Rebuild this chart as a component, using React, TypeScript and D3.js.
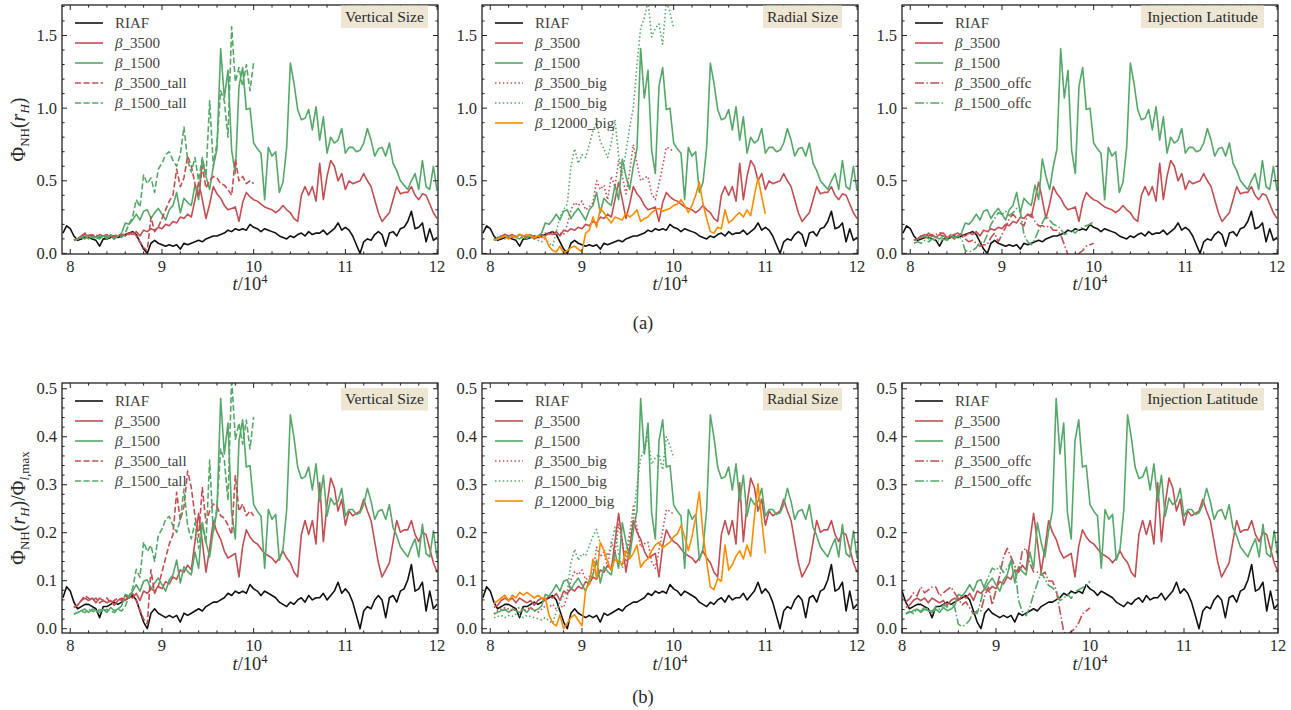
import React from "react";
import * as d3 from "d3";

// Sampling of every run: uniform step in t/10^4
const DT = 0.04;
const RIAF_T0 = 7.92;
const RUN_T0 = 8.04;

// Phi_NH(r_H) for each run (row (a)); row (b) divides by the run's Phi_max
const riaf = [
  0.14, 0.19, 0.17, 0.12, 0.09, 0.10, 0.11, 0.11, 0.10, 0.09,
  0.05, 0.10, 0.10, 0.11, 0.12, 0.11, 0.12, 0.13, 0.14, 0.15,
  0.13, 0.08, 0.03, 0.00, 0.07, 0.09, 0.07, 0.06, 0.05, 0.06,
  0.05, 0.06, 0.03, 0.07, 0.06, 0.07, 0.08, 0.09, 0.08, 0.10,
  0.11, 0.12, 0.12, 0.13, 0.14, 0.16, 0.15, 0.17, 0.16, 0.17,
  0.16, 0.20, 0.18, 0.17, 0.15, 0.17, 0.16, 0.15, 0.14, 0.12,
  0.11, 0.10, 0.12, 0.11, 0.13, 0.14, 0.12, 0.15, 0.13, 0.14,
  0.14, 0.16, 0.13, 0.15, 0.17, 0.21, 0.16, 0.18, 0.16, 0.12,
  0.06, 0.00, 0.08, 0.10, 0.09, 0.13, 0.15, 0.13, 0.05, 0.14,
  0.15, 0.12, 0.17, 0.18, 0.22, 0.29, 0.17, 0.18, 0.21, 0.08,
  0.17, 0.09, 0.11,
];

const beta3500 = [
  0.09, 0.10, 0.12, 0.13, 0.12, 0.13, 0.11, 0.13, 0.12, 0.11,
  0.12, 0.10, 0.12, 0.13, 0.12, 0.14, 0.13, 0.15, 0.12, 0.16,
  0.15, 0.17, 0.16, 0.18, 0.17, 0.20, 0.19, 0.22, 0.21, 0.25,
  0.24, 0.27, 0.25, 0.37, 0.49, 0.37, 0.24, 0.34, 0.46, 0.41,
  0.38, 0.33, 0.30, 0.31, 0.32, 0.22, 0.35, 0.42, 0.39, 0.37,
  0.36, 0.34, 0.32, 0.31, 0.30, 0.28, 0.30, 0.33, 0.30, 0.28,
  0.24, 0.22, 0.40, 0.46, 0.40, 0.46, 0.36, 0.62, 0.37, 0.53,
  0.64, 0.60, 0.50, 0.55, 0.44, 0.50, 0.48, 0.49, 0.50, 0.55,
  0.50, 0.46, 0.37, 0.28, 0.22, 0.25, 0.28, 0.37, 0.46, 0.41,
  0.42, 0.42, 0.46, 0.40, 0.37, 0.41, 0.40, 0.34, 0.28, 0.24,
];

const beta1500 = [
  0.09, 0.10, 0.11, 0.12, 0.10, 0.12, 0.11, 0.10, 0.12, 0.10,
  0.13, 0.11, 0.12, 0.14, 0.21, 0.20, 0.23, 0.27, 0.23, 0.29,
  0.30, 0.24, 0.28, 0.31, 0.27, 0.23, 0.30, 0.33, 0.42, 0.28,
  0.38, 0.35, 0.33, 0.47, 0.37, 0.65, 0.53, 0.44, 0.60, 0.72,
  1.41, 1.07, 1.26, 0.71, 0.55, 1.15, 1.28, 0.99, 1.00, 0.76,
  0.72, 0.69, 0.37, 0.73, 0.67, 0.70, 0.42, 0.49, 0.73, 1.31,
  1.17, 0.99, 0.92, 0.93, 0.99, 0.85, 1.01, 0.78, 0.94, 0.69,
  0.80, 0.76, 0.78, 0.86, 0.69, 0.73, 0.73, 0.70, 0.71, 0.76,
  0.86, 0.78, 0.67, 0.72, 0.73, 0.67, 0.76, 0.62, 0.57, 0.50,
  0.47, 0.44, 0.50, 0.55, 0.44, 0.64, 0.46, 0.44, 0.60, 0.43,
];

const beta3500Tall = [
  0.09, 0.10, 0.12, 0.14, 0.13, 0.12, 0.13, 0.11, 0.12, 0.13,
  0.11, 0.12, 0.13, 0.12, 0.14, 0.13, 0.15, 0.12, 0.08, 0.04,
  0.02, 0.25, 0.15, 0.18, 0.24, 0.30, 0.36, 0.40, 0.58, 0.46,
  0.52, 0.67, 0.60, 0.48, 0.39, 0.60, 0.45, 0.50, 0.53, 0.52,
  0.48, 0.47, 0.44, 0.40, 0.65, 0.50, 0.53, 0.48, 0.50, 0.48,
];

const beta1500Tall = [
  0.09, 0.10, 0.11, 0.10, 0.12, 0.11, 0.10, 0.12, 0.11, 0.12,
  0.11, 0.10, 0.12, 0.11, 0.14, 0.20, 0.25, 0.37, 0.32, 0.54,
  0.48, 0.52, 0.42, 0.58, 0.62, 0.68, 0.70, 0.64, 0.60, 0.68,
  0.87, 0.64, 0.56, 0.66, 0.50, 0.66, 0.53, 1.05, 0.60, 0.76,
  1.12, 1.05, 0.80, 1.56, 1.18, 1.28, 1.15, 1.30, 1.12, 1.32,
];

const beta3500Big = [
  0.09, 0.11, 0.12, 0.13, 0.12, 0.11, 0.12, 0.13, 0.11, 0.12,
  0.13, 0.11, 0.10, 0.12, 0.14, 0.13, 0.15, 0.12, 0.14, 0.13,
  0.20, 0.30, 0.35, 0.33, 0.36, 0.30, 0.32, 0.35, 0.50, 0.44,
  0.47, 0.37, 0.53, 0.46, 0.64, 0.53, 0.41, 0.56, 0.75, 0.62,
  0.50, 0.52, 0.53, 0.41, 0.37, 0.48, 0.60, 0.73, 0.72, 0.70,
];

const beta1500Big = [
  0.10, 0.11, 0.12, 0.10, 0.12, 0.11, 0.13, 0.12, 0.10, 0.12,
  0.11, 0.10, 0.09, 0.08, 0.10, 0.07, 0.05, 0.15, 0.25, 0.30,
  0.34, 0.60, 0.72, 0.62, 0.68, 0.66, 0.75, 0.84, 0.90, 0.77,
  0.72, 0.66, 0.76, 0.92, 0.67, 0.55, 0.70, 0.87, 1.00, 1.30,
  1.55, 1.62, 1.74, 1.49, 1.55, 1.58, 1.44, 1.74, 1.66, 1.55,
];

const beta12000Big = [
  0.09, 0.10, 0.11, 0.12, 0.10, 0.12, 0.11, 0.13, 0.12, 0.13,
  0.12, 0.11, 0.12, 0.11, 0.11, 0.05, 0.02, 0.01, 0.05, 0.00,
  0.02, 0.04, 0.05, 0.03, 0.01, 0.14, 0.16, 0.25, 0.18, 0.31,
  0.28, 0.24, 0.21, 0.25, 0.24, 0.23, 0.28, 0.25, 0.27, 0.30,
  0.22, 0.24, 0.25, 0.28, 0.30, 0.31, 0.29, 0.30, 0.31, 0.33,
  0.34, 0.37, 0.33, 0.28, 0.33, 0.40, 0.49, 0.34, 0.24, 0.15,
  0.14, 0.18, 0.17, 0.30, 0.21, 0.23, 0.26, 0.28, 0.25, 0.30,
  0.26, 0.40, 0.52, 0.39, 0.27,
];

const beta3500Offc = [
  0.09, 0.10, 0.12, 0.11, 0.14, 0.12, 0.13, 0.14, 0.14, 0.11,
  0.12, 0.13, 0.14, 0.12, 0.10, 0.08, 0.09, 0.07, 0.05, 0.06,
  0.06, 0.11, 0.14, 0.08, 0.13, 0.18, 0.24, 0.27, 0.24, 0.21,
  0.19, 0.26, 0.27, 0.22, 0.19, 0.19, 0.18, 0.19, 0.16, 0.16,
  0.13, 0.06, -0.01, -0.02, -0.01, 0.00, 0.02, 0.05, 0.06, 0.07,
];

const beta1500Offc = [
  0.07, 0.08, 0.07, 0.09, 0.08, 0.10, 0.09, 0.08, 0.10, 0.09,
  0.11, 0.10, 0.12, 0.10, 0.02, 0.01, 0.02, 0.04, 0.08, 0.07,
  0.13, 0.20, 0.24, 0.28, 0.27, 0.29, 0.26, 0.28, 0.31, 0.29,
  0.13, 0.08, 0.06, 0.10, 0.16, 0.21, 0.26, 0.23, 0.20, 0.19,
  0.17, 0.13, 0.14, 0.16, 0.14, 0.17, 0.18, 0.19, 0.20, 0.22,
];

// Phi_max of each run, used for the normalised row
const PHI_MAX: Record<string, number> = {
  RIAF: 2.17,
  "β_3500": 2.04,
  "β_1500": 2.94,
  "β_3500_tall": 2.04,
  "β_1500_tall": 2.99,
  "β_3500_big": 2.94,
  "β_1500_big": 4.35,
  "β_12000_big": 1.72,
  "β_3500_offc": 1.61,
  "β_1500_offc": 2.22,
};

const X_TICKS = [8, 9, 10, 11, 12];
const Y_TICKS_A = [0, 0.5, 1.0, 1.5];
const Y_TICKS_B = [0, 0.1, 0.2, 0.3, 0.4, 0.5];
const PANEL_TITLES = ["Vertical Size", "Radial Size", "Injection Latitude"];

const BLACK = "#111111";
const RED = "#c44e52";
const GREEN = "#55a868";
const ORANGE = "#ff8c00";

const DASHED = "6,2.6";
const DOTTED = "1.5,2.4";
const DASHDOT = "9,2.4,1.5,2.4";

type Series = {
  label: string;
  values: number[];
  t0: number;
  color: string;
  dash?: string;
};

const baseSeries: Series[] = [
  { label: "RIAF", values: riaf, t0: RIAF_T0, color: BLACK },
  { label: "β_3500", values: beta3500, t0: RUN_T0, color: RED },
  { label: "β_1500", values: beta1500, t0: RUN_T0, color: GREEN },
];

const extraSeries: Series[][] = [
  [
    { label: "β_3500_tall", values: beta3500Tall, t0: RUN_T0, color: RED, dash: DASHED },
    { label: "β_1500_tall", values: beta1500Tall, t0: RUN_T0, color: GREEN, dash: DASHED },
  ],
  [
    { label: "β_3500_big", values: beta3500Big, t0: RUN_T0, color: RED, dash: DOTTED },
    { label: "β_1500_big", values: beta1500Big, t0: RUN_T0, color: GREEN, dash: DOTTED },
    { label: "β_12000_big", values: beta12000Big, t0: RUN_T0, color: ORANGE },
  ],
  [
    { label: "β_3500_offc", values: beta3500Offc, t0: RUN_T0, color: RED, dash: DASHDOT },
    { label: "β_1500_offc", values: beta1500Offc, t0: RUN_T0, color: GREEN, dash: DASHDOT },
  ],
];

// Layout
const PANEL_LEFT = [62, 482, 902];
const PANEL_W = 376;
const ROW_TOP = [5, 383];
const ROW_BOTTOM = [254, 633];
const BOX_X = [279, 281, 239]; // title box offset from panel left
const BOX_W = [87, 79, 123];
const BOX_TOP = [5.5, 388];
const BOX_H = 22.5;

const FONT = "'Liberation Serif', 'DejaVu Serif', serif";
const AXIS = "#222222";
const TEXT = "#2a2a2a";

function LegendLabel({ label }: { label: string }) {
  if (label.startsWith("β")) {
    return (
      <>
        <tspan fontStyle="italic">β</tspan>
        <tspan>{label.slice(1)}</tspan>
      </>
    );
  }
  return <tspan>{label}</tspan>;
}

function Panel({ row, col }: { row: number; col: number }) {
  const left = PANEL_LEFT[col];
  const right = left + PANEL_W;
  const top = ROW_TOP[row];
  const bottom = ROW_BOTTOM[row];
  const xDomain: [number, number] = row === 1 && col === 2 ? [8, 12] : [7.91, 12.01];
  const x = d3.scaleLinear().domain(xDomain).range([left, right]);
  const y =
    row === 0
      ? d3.scaleLinear().domain([-0.004, 1.71]).range([bottom, top])
      : d3.scaleLinear().domain([-0.009, 0.512]).range([bottom, top]);

  const series = [...baseSeries, ...extraSeries[col]];
  const clipId = `clip-${row}-${col}`;

  const xMinor: number[] = [];
  for (let k = 39; k <= 61; k++) {
    const v = k / 5;
    if (k % 5 !== 0 && v >= xDomain[0] && v <= xDomain[1]) xMinor.push(v);
  }
  const yMajor = row === 0 ? Y_TICKS_A : Y_TICKS_B;
  const yMinor: number[] = [];
  if (row === 0) {
    for (let k = 0; k <= 17; k++) if (k % 5 !== 0) yMinor.push(k / 10);
  } else {
    for (let k = 0; k <= 25; k++) if (k % 5 !== 0) yMinor.push(k / 50);
  }

  const MAJ = 5;
  const MIN = 2.6;

  return (
    <g>
      <defs>
        <clipPath id={clipId}>
          <rect x={left} y={top} width={right - left} height={bottom - top} />
        </clipPath>
      </defs>

      <g clipPath={`url(#${clipId})`} fill="none" strokeWidth={1.6} strokeLinejoin="round">
        {series.map((s) => {
          const norm = row === 0 ? 1 : PHI_MAX[s.label];
          const line = d3
            .line<number>()
            .x((_, i) => x(s.t0 + i * DT))
            .y((v) => y(v / norm));
          return (
            <path
              key={s.label}
              d={line(s.values) || ""}
              stroke={s.color}
              strokeDasharray={s.dash}
            />
          );
        })}
      </g>

      {/* frame */}
      <rect
        x={left}
        y={top}
        width={right - left}
        height={bottom - top}
        fill="none"
        stroke={AXIS}
        strokeWidth={1.3}
      />

      {/* ticks */}
      <g stroke={AXIS} strokeWidth={1}>
        {X_TICKS.filter((v) => v >= xDomain[0] && v <= xDomain[1]).map((v) => (
          <g key={`xM${v}`}>
            <line x1={x(v)} x2={x(v)} y1={bottom} y2={bottom - MAJ} />
            <line x1={x(v)} x2={x(v)} y1={top} y2={top + MAJ} />
          </g>
        ))}
        {xMinor.map((v) => (
          <g key={`xm${v}`}>
            <line x1={x(v)} x2={x(v)} y1={bottom} y2={bottom - MIN} />
            <line x1={x(v)} x2={x(v)} y1={top} y2={top + MIN} />
          </g>
        ))}
        {yMajor.map((v) => (
          <g key={`yM${v}`}>
            <line x1={left} x2={left + MAJ} y1={y(v)} y2={y(v)} />
            <line x1={right} x2={right - MAJ} y1={y(v)} y2={y(v)} />
          </g>
        ))}
        {yMinor.map((v) => (
          <g key={`ym${v}`}>
            <line x1={left} x2={left + MIN} y1={y(v)} y2={y(v)} />
            <line x1={right} x2={right - MIN} y1={y(v)} y2={y(v)} />
          </g>
        ))}
      </g>

      {/* tick labels */}
      <g fontSize={16.5} fill={TEXT}>
        {X_TICKS.filter((v) => v >= xDomain[0] && v <= xDomain[1]).map((v) => (
          <text key={`xl${v}`} x={x(v)} y={bottom + 18} textAnchor="middle">
            {String(v)}
          </text>
        ))}
        {yMajor.map((v) => (
          <text key={`yl${v}`} x={left - 5} y={y(v) + 5.5} textAnchor="end">
            {v.toFixed(1)}
          </text>
        ))}
      </g>

      {/* x-axis label */}
      <text
        x={(left + right) / 2}
        y={bottom + (row === 0 ? 36 : 37)}
        textAnchor="middle"
        fontSize={18.5}
        fill={TEXT}
      >
        <tspan fontStyle="italic">t</tspan>
        <tspan>/10</tspan>
        <tspan dy={-7} fontSize={12.5}>4</tspan>
      </text>

      {/* legend */}
      <g>
        {series.map((s, i) => {
          const ly = top + 18 + i * 20;
          return (
            <g key={`lg${s.label}`}>
              <line
                x1={left + 13}
                x2={left + 41}
                y1={ly}
                y2={ly}
                stroke={s.color}
                strokeWidth={1.6}
                strokeDasharray={s.dash}
              />
              <text x={left + 53} y={ly + 5} fontSize={15} fill="#404040">
                <LegendLabel label={s.label} />
              </text>
            </g>
          );
        })}
      </g>

      {/* panel title box */}
      <rect
        x={left + BOX_X[col]}
        y={BOX_TOP[row]}
        width={BOX_W[col]}
        height={BOX_H}
        fill="#ece6d3"
      />
      <text
        x={left + BOX_X[col] + BOX_W[col] / 2}
        y={BOX_TOP[row] + BOX_H / 2 + 5}
        textAnchor="middle"
        fontSize={15.5}
        fill={TEXT}
      >
        {PANEL_TITLES[col]}
      </text>
    </g>
  );
}

export default function App() {
  const midA = (ROW_TOP[0] + ROW_BOTTOM[0]) / 2;
  const midB = (ROW_TOP[1] + ROW_BOTTOM[1]) / 2;
  return (
    <svg
      width={1291}
      height={710}
      style={{ position: "absolute", left: 0, top: 0, display: "block" }}
      fontFamily={FONT}
    >
      <rect width={1291} height={710} fill="#ffffff" />
      {[0, 1].map((row) =>
        [0, 1, 2].map((col) => <Panel key={`${row}-${col}`} row={row} col={col} />)
      )}

      {/* y-axis labels */}
      <text transform={`translate(25,${midA}) rotate(-90)`} textAnchor="middle" fontSize={20} fill={TEXT}>
        <tspan>Φ</tspan>
        <tspan dy={4} fontSize={13}>NH</tspan>
        <tspan dy={-4}>(</tspan>
        <tspan fontStyle="italic">r</tspan>
        <tspan dy={4} fontSize={13} fontStyle="italic">H</tspan>
        <tspan dy={-4}>)</tspan>
      </text>
      <text transform={`translate(25,${midB}) rotate(-90)`} textAnchor="middle" fontSize={20} fill={TEXT}>
        <tspan>Φ</tspan>
        <tspan dy={4} fontSize={13}>NH</tspan>
        <tspan dy={-4}>(</tspan>
        <tspan fontStyle="italic">r</tspan>
        <tspan dy={4} fontSize={13} fontStyle="italic">H</tspan>
        <tspan dy={-4}>)/Φ</tspan>
        <tspan dy={4} fontSize={13}>
          <tspan fontStyle="italic">l</tspan>,max
        </tspan>
      </text>

      {/* row captions */}
      <text x={643} y={329} textAnchor="middle" fontSize={18.5} fill={TEXT}>
        (a)
      </text>
      <text x={643} y={703} textAnchor="middle" fontSize={18.5} fill={TEXT}>
        (b)
      </text>
    </svg>
  );
}
